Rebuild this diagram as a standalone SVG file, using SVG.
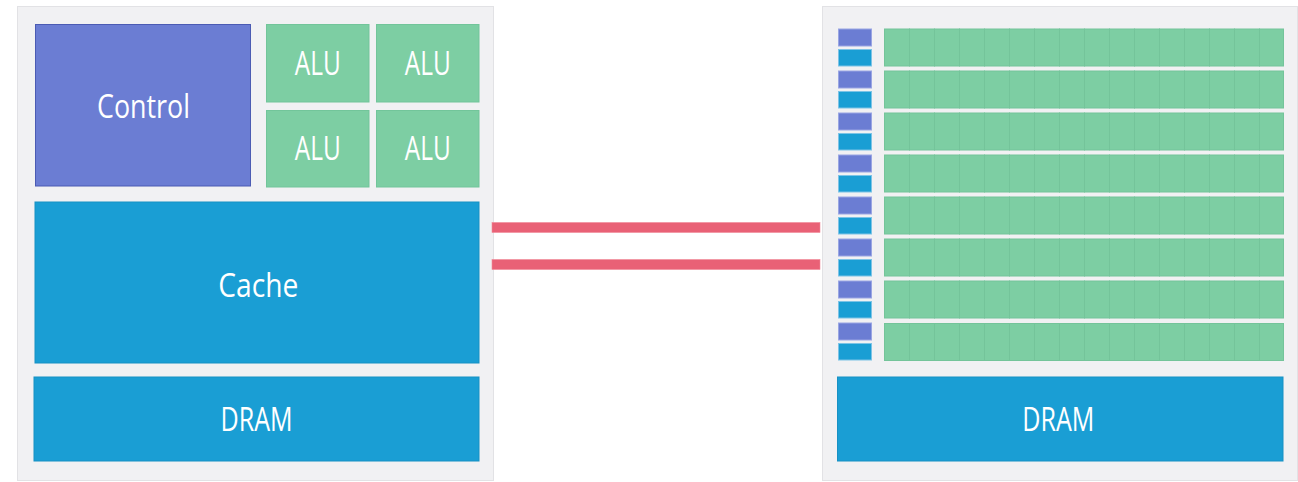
<svg xmlns="http://www.w3.org/2000/svg" xmlns:xlink="http://www.w3.org/1999/xlink" width="1298" height="482" viewBox="0 0 1298 482">
<style>
.panel{fill:#F1F1F3;stroke:#E2E2E5;stroke-width:1}
.ctrl{fill:#6B7DD3;stroke:#4B5BB3;stroke-width:1}
.alu{fill:#7DCEA3;stroke:#72C59A;stroke-width:1}
.blue{fill:#1A9ED4;stroke:#1791C4;stroke-width:1}
.sctrl{fill:#6B7DD3;stroke:#9AA5E3;stroke-width:1}
.sblue{fill:#1A9ED4;stroke:#7CC3E6;stroke-width:1}
.cell{fill:#7DCEA3;stroke:#74C49A;stroke-width:1}
.link{fill:#E96176;stroke:#F08A9A;stroke-width:0.6}
.lbl{font-family:"Open Sans","Noto Sans",sans-serif;font-size:32px;fill:#FFFFFF;text-anchor:middle}
</style>
<defs>
<g id="cellrow">
<rect class="cell" x="884.5" y="0" width="25" height="37"/>
<rect class="cell" x="909.5" y="0" width="25" height="37"/>
<rect class="cell" x="934.5" y="0" width="25" height="37"/>
<rect class="cell" x="959.5" y="0" width="25" height="37"/>
<rect class="cell" x="984.5" y="0" width="25" height="37"/>
<rect class="cell" x="1009.5" y="0" width="25" height="37"/>
<rect class="cell" x="1034.5" y="0" width="25" height="37"/>
<rect class="cell" x="1059.5" y="0" width="25" height="37"/>
<rect class="cell" x="1084.5" y="0" width="25" height="37"/>
<rect class="cell" x="1109.5" y="0" width="25" height="37"/>
<rect class="cell" x="1134.5" y="0" width="25" height="37"/>
<rect class="cell" x="1159.5" y="0" width="25" height="37"/>
<rect class="cell" x="1184.5" y="0" width="25" height="37"/>
<rect class="cell" x="1209.5" y="0" width="25" height="37"/>
<rect class="cell" x="1234.5" y="0" width="25" height="37"/>
<rect class="cell" x="1259.5" y="0" width="24" height="37"/>
</g>
<g id="unit">
<rect class="sctrl" x="838.5" y="0" width="33" height="17"/>
<rect class="sblue" x="838.5" y="20.5" width="33" height="16.5"/>
</g>
</defs>

<g id="cpu-panel">
<rect class="panel" x="17.5" y="6.5" width="476" height="474"/>
</g>
<g id="gpu-panel">
<rect class="panel" x="822.5" y="6.5" width="475" height="474"/>
</g>

<g id="control">
<rect class="ctrl" x="35.5" y="24.5" width="215" height="161.5"/>
<text class="lbl" x="143.5" y="118.3" textLength="93" lengthAdjust="spacingAndGlyphs">Control</text>
</g>
<g id="alu-1">
<rect class="alu" x="266.5" y="24.5" width="102.5" height="77.5"/>
<text class="lbl" x="317.7" y="75" textLength="46" lengthAdjust="spacingAndGlyphs">ALU</text>
</g>
<g id="alu-2">
<rect class="alu" x="376.5" y="24.5" width="102.5" height="77.5"/>
<text class="lbl" x="427.7" y="75" textLength="46" lengthAdjust="spacingAndGlyphs">ALU</text>
</g>
<g id="alu-3">
<rect class="alu" x="266.5" y="110.5" width="102.5" height="76.5"/>
<text class="lbl" x="317.7" y="160.3" textLength="46" lengthAdjust="spacingAndGlyphs">ALU</text>
</g>
<g id="alu-4">
<rect class="alu" x="376.5" y="110.5" width="102.5" height="76.5"/>
<text class="lbl" x="427.7" y="160.3" textLength="46" lengthAdjust="spacingAndGlyphs">ALU</text>
</g>
<g id="cache">
<rect class="blue" x="35" y="202" width="444" height="161"/>
<text class="lbl" x="258.3" y="296.8" textLength="80" lengthAdjust="spacingAndGlyphs">Cache</text>
</g>
<g id="cpu-dram">
<rect class="blue" x="34" y="377" width="445" height="84"/>
<text class="lbl" x="256.5" y="431.2" textLength="72" lengthAdjust="spacingAndGlyphs">DRAM</text>
</g>

<g id="gpu-units">
<use xlink:href="#unit" href="#unit" y="29"/>
<use xlink:href="#unit" href="#unit" y="71"/>
<use xlink:href="#unit" href="#unit" y="113"/>
<use xlink:href="#unit" href="#unit" y="155"/>
<use xlink:href="#unit" href="#unit" y="197"/>
<use xlink:href="#unit" href="#unit" y="239"/>
<use xlink:href="#unit" href="#unit" y="281"/>
<use xlink:href="#unit" href="#unit" y="323"/>
</g>
<g id="gpu-cores">
<use xlink:href="#cellrow" href="#cellrow" y="29"/>
<use xlink:href="#cellrow" href="#cellrow" y="71"/>
<use xlink:href="#cellrow" href="#cellrow" y="113"/>
<use xlink:href="#cellrow" href="#cellrow" y="155"/>
<use xlink:href="#cellrow" href="#cellrow" y="197"/>
<use xlink:href="#cellrow" href="#cellrow" y="239"/>
<use xlink:href="#cellrow" href="#cellrow" y="281"/>
<use xlink:href="#cellrow" href="#cellrow" y="323.5"/>
</g>
<g id="gpu-dram">
<rect class="blue" x="837.5" y="377" width="445.5" height="84"/>
<text class="lbl" x="1058.3" y="431.2" textLength="72" lengthAdjust="spacingAndGlyphs">DRAM</text>
</g>

<g id="connectors">
<rect class="link" x="492" y="222.5" width="328" height="10"/>
<rect class="link" x="492" y="259.5" width="328" height="10"/>
</g>
</svg>
